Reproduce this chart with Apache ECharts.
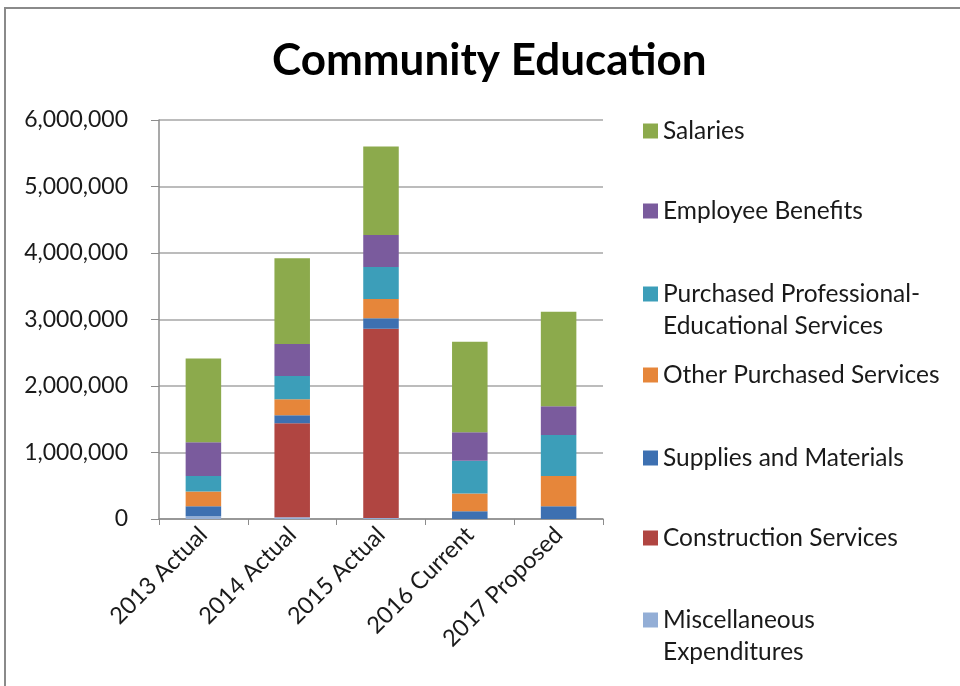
<!DOCTYPE html>
<html>
<head>
<meta charset="utf-8">
<script src="https://cdn.jsdelivr.net/npm/echarts@6/dist/echarts.min.js"></script>
<style>
    html, body { margin: 0; padding: 0; background: #fff; }
    #main { width: 960px; height: 686px; }
</style>
</head>
<body>
<div id="main"></div>
<script>
// categories (x axis)
var categories = ['2013 Actual', '2014 Actual', '2015 Actual', '2016 Current', '2017 Proposed'];

// series values, bottom of stack first
var miscExpenditures = [40000, 25000, 15000, 0, 0];
var constructionServices = [0, 1415000, 2845000, 0, 0];
var suppliesMaterials = [150000, 120000, 160000, 115000, 190000];
var otherPurchased = [225000, 240000, 290000, 270000, 455000];
var professionalEducational = [230000, 350000, 480000, 490000, 620000];
var employeeBenefits = [510000, 480000, 480000, 430000, 430000];
var salaries = [1260000, 1290000, 1330000, 1360000, 1420000];

// y axis ticks
var yTicks = [0, 1000000, 2000000, 3000000, 4000000, 5000000, 6000000];

var seriesList = [
    { name: 'Miscellaneous Expenditures', data: miscExpenditures, color: '#93AED6' },
    { name: 'Construction Services', data: constructionServices, color: '#B04541' },
    { name: 'Supplies and Materials', data: suppliesMaterials, color: '#3D70B1' },
    { name: 'Other Purchased Services', data: otherPurchased, color: '#E6863A' },
    { name: 'Purchased Professional-Educational Services', data: professionalEducational, color: '#3C9EB9' },
    { name: 'Employee Benefits', data: employeeBenefits, color: '#7A5B9D' },
    { name: 'Salaries', data: salaries, color: '#8CAA4C' }
];

// legend rows: centre y of first text line, and label text
var legendRows = [
    { name: 'Salaries', y: 131, text: 'Salaries' },
    { name: 'Employee Benefits', y: 211, text: 'Employee Benefits' },
    { name: 'Purchased Professional-Educational Services', y: 294, text: 'Purchased Professional-\nEducational Services' },
    { name: 'Other Purchased Services', y: 375, text: 'Other Purchased Services' },
    { name: 'Supplies and Materials', y: 458, text: 'Supplies and Materials' },
    { name: 'Construction Services', y: 538, text: 'Construction Services' },
    { name: 'Miscellaneous Expenditures', y: 620, text: 'Miscellaneous\nExpenditures' }
];

var font = 'Lato, "Open Sans", sans-serif';

var myChart = echarts.init(document.getElementById('main'));

let option = {
    backgroundColor: '#fff',
    animation: false,
    title: {
        text: 'Community Education',
        left: 272,
        top: 39,
        padding: 0,
        textStyle: {
            fontFamily: font,
            fontSize: 44,
            fontWeight: 'bold',
            color: '#000'
        }
    },
    // one legend per row so the gaps match the picture
    legend: legendRows.map(function (row) {
        var lines = row.text.split('\n').length;
        // blank first line keeps the icon level with the first text line
        var label = lines > 1 ? ' \n' + row.text : row.text;
        return {
            data: [row.name],
            orient: 'vertical',
            left: 643,
            top: lines > 1 ? row.y - 48 : row.y - 16,
            padding: 0,
            icon: 'rect',
            itemWidth: 15,
            itemHeight: 15,
            selectedMode: false,
            formatter: function () { return label; },
            textStyle: {
                fontFamily: font,
                fontSize: 24.5,
                color: '#1a1a1a',
                lineHeight: 32
            }
        };
    }),
    grid: {     //图表位置
        left: 159,
        right: 357,
        top: 120,
        bottom: 167
    },
    xAxis: {
        type: 'category',
        data: categories,
        axisLine: {
            lineStyle: { color: '#8c8c8c', width: 1.5 }
        },
        axisTick: {
            show: true,
            length: 6,
            lineStyle: { color: '#8c8c8c' }
        },
        axisLabel: {
            rotate: 45,
            margin: 12,
            fontFamily: font,
            fontSize: 23.5,
            color: '#1a1a1a'
        }
    },
    yAxis: {
        type: 'value',
        min: yTicks[0],
        max: yTicks[yTicks.length - 1],
        interval: yTicks[1] - yTicks[0],
        axisLine: {
            show: true,
            lineStyle: { color: '#8c8c8c', width: 1.5 }
        },
        axisTick: {
            show: true,
            length: 8,
            lineStyle: { color: '#8c8c8c' }
        },
        axisLabel: {
            margin: 31,
            fontFamily: font,
            fontSize: 23,
            color: '#1a1a1a',
            formatter: function (v) { return v.toLocaleString('en-US'); }
        },
        splitLine: {    //分隔线
            show: true,
            lineStyle: { color: '#a6a6a6', width: 1.5 }
        }
    },
    graphic: [
        {   // 外边框
            type: 'rect',
            shape: { x: 5, y: 8, width: 970, height: 700 },
            style: { fill: 'none', stroke: '#8a8a8a', lineWidth: 2 },
            silent: true
        }
    ],
    series: seriesList.map(function (s) {
        return {
            name: s.name,
            type: 'bar',
            stack: 'total',
            data: s.data,
            barWidth: '40%',
            itemStyle: { color: s.color }
        };
    })
};

myChart.setOption(option);
</script>
</body>
</html>
